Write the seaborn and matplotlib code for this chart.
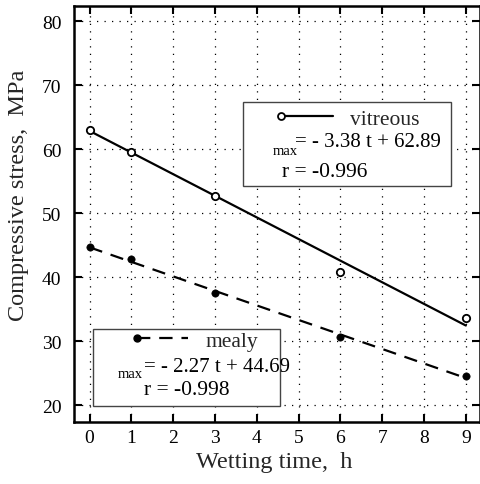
import numpy as np
import pandas as pd
import matplotlib
matplotlib.use("Agg")
import matplotlib.pyplot as plt
from matplotlib.lines import Line2D
from matplotlib.patches import Rectangle
import seaborn as sns

sns.set_style("ticks")
plt.rcParams['font.family'] = ['Liberation Serif', 'DejaVu Serif']

# Data
hours = [0, 1, 3, 6, 9]
vitreous = [63.1, 59.6, 52.7, 40.9, 33.7]
mealy = [44.8, 42.9, 37.6, 30.6, 24.6]

# regression lines as printed on the chart
fit_vitreous = (-3.38, 62.89)
fit_mealy = (-2.27, 44.69)
fit_t = [0, 9]

pts = pd.DataFrame({'t': hours, 'vitreous': vitreous, 'mealy': mealy})
lines = pd.DataFrame({'t': fit_t})
lines['vitreous'] = [fit_vitreous[0] * t + fit_vitreous[1] for t in fit_t]
lines['mealy'] = [fit_mealy[0] * t + fit_mealy[1] for t in fit_t]

fig = plt.figure(figsize=(4.81, 4.85), dpi=100)
ax = fig.add_axes([0.154, 0.128, 0.844, 0.858])

sns.lineplot(data=lines, x='t', y='vitreous', ax=ax, color='black', lw=1.6)
sns.lineplot(data=lines, x='t', y='mealy', ax=ax, color='black', lw=1.6,
             linestyle=(0, (6, 4)))
sns.scatterplot(data=pts, x='t', y='vitreous', ax=ax, marker='o', s=28,
                facecolor='white', edgecolor='black', linewidth=1.3, zorder=5)
sns.scatterplot(data=pts, x='t', y='mealy', ax=ax, marker='o', s=28,
                color='black', edgecolor='black', zorder=5)

ax.set_xlim(-0.37, 9.34)
ax.set_ylim(17.4, 82.45)
ax.set_xticks(range(0, 10))
ax.set_yticks(range(20, 81, 10))
ax.grid(True, linestyle=(0, (1, 5)), color='black', lw=0.9)
ax.tick_params(direction='in', length=6, width=1.5, top=True, right=True,
               labelsize=14, colors='black')
ax.tick_params(axis='y', pad=9)
ax.tick_params(axis='x', pad=5)
for s in ax.spines.values():
    s.set_linewidth(1.8)
    s.set_color('black')
ax.set_xlabel('Wetting time,  h', fontsize=17.5)
ax.set_ylabel('Compressive stress,  MPa', fontsize=17.5)
ax.xaxis.set_label_coords(0.493, -0.07)
ax.yaxis.set_label_coords(-0.112, 0.548)

# legend boxes
ax.add_patch(Rectangle((0.416, 0.567), 0.513, 0.202, transform=ax.transAxes,
                       facecolor='white', edgecolor='#444444', lw=1.0, zorder=6))
ax.add_patch(Rectangle((0.047, 0.0385), 0.461, 0.185, transform=ax.transAxes,
                       facecolor='white', edgecolor='#444444', lw=1.0, zorder=6))

h_v = Line2D([], [], color='black', lw=1.6, marker='o', markersize=5,
             markerfacecolor='white', markeredgewidth=1.3)
h_m = Line2D([], [], color='black', lw=1.6, linestyle=(0, (6, 4)), marker='o',
             markersize=5)
leg1 = ax.legend([h_v], ['vitreous'], loc='center left', frameon=False,
                 bbox_to_anchor=(0.495, 0.728), fontsize=15.5, handlelength=3.0,
                 handletextpad=0.5, borderpad=0, borderaxespad=0, numpoints=2)
leg1.set_zorder(7)
ax.add_artist(leg1)
leg2 = ax.legend([h_m], ['mealy'], loc='center left', frameon=False,
                 bbox_to_anchor=(0.138, 0.195), fontsize=15.5, handlelength=3.0,
                 handletextpad=0.5, borderpad=0, borderaxespad=0, numpoints=2)
leg2.set_zorder(7)
# marker only at the left end of each legend handle
for lg in (leg1, leg2):
    for ln in lg.get_lines():
        ln.set_markevery([0])

kw = dict(transform=ax.transAxes, zorder=7, color='black', va='center', ha='left')
ax.text(0.490, 0.653, 'max', fontsize=10.5, **kw)
ax.text(0.544, 0.675, '= - 3.38 t + 62.89', fontsize=15, **kw)
ax.text(0.512, 0.601, 'r = -0.996', fontsize=15.5, **kw)

ax.text(0.108, 0.117, 'max', fontsize=10.5, **kw)
ax.text(0.172, 0.132, '= - 2.27 t + 44.69', fontsize=15, **kw)
ax.text(0.172, 0.079, 'r = -0.998', fontsize=15.5, **kw)

fig.savefig('out.png', dpi=100)
